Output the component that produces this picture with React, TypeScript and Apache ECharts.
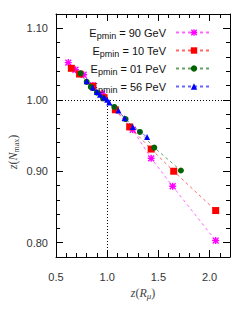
import React, { useEffect, useRef } from "react";
import * as echarts from "echarts";

const legendNames = ["90 GeV", "10 TeV", "01 PeV", "56 PeV"];
const colors = ["#ff00ff", "#ff0000", "#006400", "#0000ff"];

const x90GeV = [0.62, 0.69, 0.77, 0.86, 0.95, 1.25, 1.43, 1.64, 2.06];
const y90GeV = [1.052, 1.042, 1.035, 1.020, 1.009, 0.958, 0.918, 0.879, 0.803];

const x10TeV = [0.65, 0.73, 0.86, 0.97, 1.08, 1.22, 1.43, 1.65, 2.06];
const y10TeV = [1.044, 1.036, 1.019, 1.003, 0.986, 0.962, 0.931, 0.900, 0.845];

const x01PeV = [0.74, 0.80, 0.84, 0.90, 0.96, 1.07, 1.18, 1.32, 1.46, 1.72];
const y01PeV = [1.037, 1.025, 1.018, 1.010, 1.002, 0.990, 0.973, 0.955, 0.933, 0.901];

const x56PeV = [0.80, 0.86, 0.90, 0.93, 0.97, 1.00, 1.02, 1.11, 1.17, 1.25, 1.39];
const y56PeV = [1.026, 1.017, 1.011, 1.007, 1.003, 1.000, 0.996, 0.985, 0.974, 0.962, 0.948];

const xMajor = [0.5, 1.0, 1.5, 2.0];
const xMinor = [0.6, 0.7, 0.8, 0.9, 1.1, 1.2, 1.3, 1.4, 1.6, 1.7, 1.8, 1.9, 2.1];
const yMajor = [0.8, 0.9, 1.0, 1.1];
const yMinor = [0.82, 0.84, 0.86, 0.88, 0.92, 0.94, 0.96, 0.98, 1.02, 1.04, 1.06, 1.08];

const X_MIN = 0.5, X_MAX = 2.2, Y_MIN = 0.78, Y_MAX = 1.12;

const asterisk =
  "path://M4,0h2v10h-2z M0,4h10v2h-10z M1.5,0.1L9.9,8.5L8.5,9.9L0.1,1.5z M8.5,0.1L9.9,1.5L1.5,9.9L0.1,8.5z";

const zip = (xs: number[], ys: number[]) => xs.map((x, i) => [x, ys[i]]);

export default function App() {
  const ref = useRef<HTMLDivElement>(null);
  useEffect(() => {
    if (!ref.current) return;
    document.body.style.margin = "0";
    const chart = echarts.init(ref.current, null, { renderer: "svg" });
    const font = "Liberation Sans";
    const mkX = (pos: "bottom" | "top", major: boolean) => ({
      type: "value",
      position: pos,
      min: X_MIN,
      max: X_MAX,
      interval: 0.5,
      axisLine: { show: major, onZero: false, lineStyle: { color: "#000", width: 1 } },
      axisTick: {
        show: true,
        inside: true,
        length: major ? 7 : 4,
        customValues: major ? xMajor : xMinor,
        lineStyle: { color: "#000" },
      },
      axisLabel: {
        show: major && pos === "bottom",
        customValues: xMajor,
        formatter: (v: number) => v.toFixed(1),
        margin: 14,
        fontFamily: font,
        fontSize: 11,
        color: "#333",
      },
      splitLine: { show: false },
    });
    const mkY = (pos: "left" | "right", major: boolean) => ({
      type: "value",
      position: pos,
      min: Y_MIN,
      max: Y_MAX,
      interval: 0.02,
      axisLine: { show: major, onZero: false, lineStyle: { color: "#000", width: 1 } },
      axisTick: {
        show: true,
        inside: true,
        length: major ? 7 : 4,
        customValues: major ? yMajor : yMinor,
        lineStyle: { color: "#000" },
      },
      axisLabel: {
        show: major && pos === "left",
        customValues: yMajor,
        formatter: (v: number) => v.toFixed(2),
        margin: 8,
        fontFamily: font,
        fontSize: 11,
        color: "#333",
      },
      splitLine: { show: false },
    });

    const datasets = [
      zip(x90GeV, y90GeV),
      zip(x10TeV, y10TeV),
      zip(x01PeV, y01PeV),
      zip(x56PeV, y56PeV),
    ];
    const symbols = [asterisk, "rect", "circle", "triangle"];
    const sizes = [7, 7, 6, 6];

    const series: any[] = datasets.map((d, i) => ({
      type: "line",
      name: "Epmin = " + legendNames[i],
      data: d,
      xAxisIndex: 0,
      yAxisIndex: 0,
      symbol: symbols[i],
      symbolSize: sizes[i],
      showAllSymbol: true,
      itemStyle: { color: colors[i] },
      lineStyle: { color: colors[i], width: 1, type: [3, 3], opacity: 0.6 },
      z: 3 + i,
    }));
    series[0].markLine = {
      silent: true,
      symbol: ["none", "none"],
      label: { show: false },
      lineStyle: { type: [1, 2], color: "#000", width: 1 },
      data: [
        [{ coord: [X_MIN, 1.0] }, { coord: [X_MAX, 1.0] }],
        [{ coord: [1.0, Y_MIN] }, { coord: [1.0, 1.0] }],
      ],
    };
    series[0].z = 2;

    const option: any = {
      animation: false,
      grid: { left: 56, right: 19, top: 14, bottom: 55, containLabel: false },
      xAxis: [mkX("bottom", true), mkX("bottom", false), mkX("top", true), mkX("top", false)],
      yAxis: [mkY("left", true), mkY("left", false), mkY("right", true), mkY("right", false)],
      legend: {
        orient: "vertical",
        right: 31,
        top: 20,
        align: "right",
        itemWidth: 36,
        itemHeight: 8,
        itemGap: 3,
        selectedMode: false,
        data: series.map((s) => s.name),
        formatter: (name: string) => {
          const rest = name.replace(/^Epmin/, "");
          return "{e|E}{s|pmin}{e|" + rest + "}";
        },
        textStyle: {
          padding: [0, 5, 0, 0],
          rich: {
            e: { fontFamily: font, fontSize: 11, color: "#111", lineHeight: 12 },
            s: { fontFamily: font, fontSize: 9, color: "#111", lineHeight: 7, padding: [6, 0, 0, 0] },
          },
        },
      },
      graphic: [
        {
          type: "text",
          x: 143,
          y: 293,
          style: {
            text: "{i|z}{n|(}{i|R}{s|μ}{n|)}",
            align: "center",
            verticalAlign: "middle",
            rich: {
              i: { fontFamily: "Liberation Serif", fontStyle: "italic", fontSize: 12, fill: "#444" },
              n: { fontFamily: "Liberation Serif", fontSize: 12, fill: "#444" },
              s: { fontFamily: "Liberation Serif", fontStyle: "italic", fontSize: 9, fill: "#444", padding: [6, 0, 0, 0] },
            },
          },
        },
        {
          type: "text",
          x: 13,
          y: 152,
          rotation: Math.PI / 2,
          style: {
            text: "{i|z}{n|(}{i|N}{s|max}{n|)}",
            align: "center",
            verticalAlign: "middle",
            rich: {
              i: { fontFamily: "Liberation Serif", fontStyle: "italic", fontSize: 12, fill: "#444" },
              n: { fontFamily: "Liberation Serif", fontSize: 12, fill: "#444" },
              s: { fontFamily: "Liberation Serif", fontSize: 8, fill: "#444", padding: [6, 0, 0, 0] },
            },
          },
        },
      ],
      series,
    };
    chart.setOption(option);
    return () => chart.dispose();
  }, []);
  return <div ref={ref} style={{ width: 249, height: 312 }} />;
}
